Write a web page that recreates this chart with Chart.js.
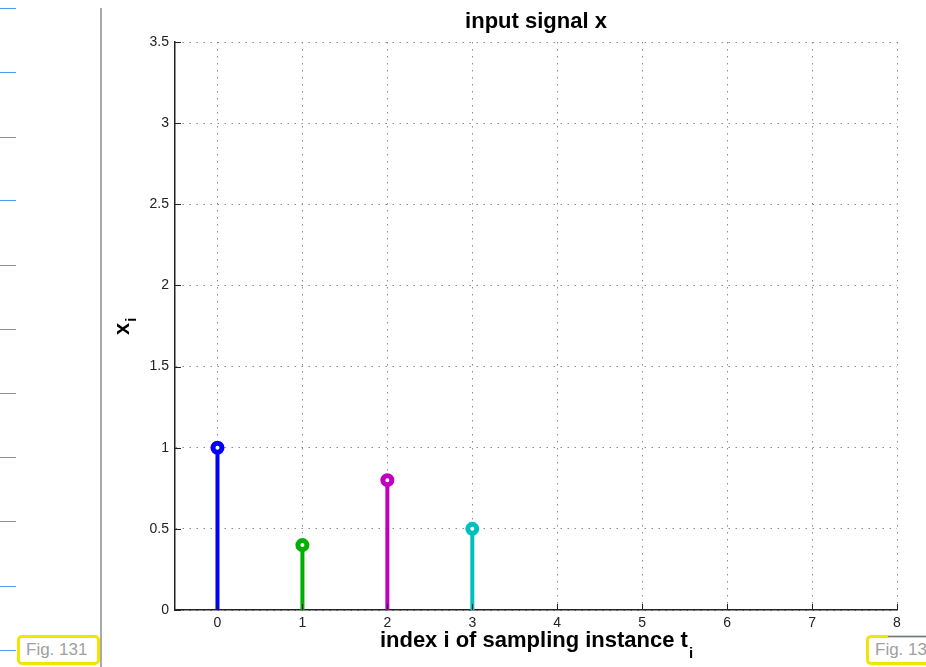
<!DOCTYPE html>
<html>
<head>
<meta charset="utf-8">
<title>input signal x</title>
<script src="https://cdn.jsdelivr.net/npm/chart.js@4/dist/chart.umd.min.js"></script>
<style>
  html, body { margin: 0; padding: 0; background: #fff; overflow: hidden; }
  #page { position: relative; width: 926px; height: 667px; }
  #stemChart { position: absolute; left: 0; top: 0; }
  .rule { position: absolute; left: 0; width: 16px; height: 1px; background: #4f9ff0; }
  .divider { position: absolute; left: 100px; top: 8px; width: 2px; height: 659px; background: #a8a8a8; }
  .fig { position: absolute; height: 24px; border: 3px solid #f2e600; border-radius: 5px;
         font: 17px "Liberation Sans", Arial, sans-serif; color: #a0a0a0; line-height: 24px;
         padding-left: 6px; box-sizing: content-box; background: #fff; overflow: hidden; white-space: nowrap; }
</style>
</head>
<body>
<div id="page">
  <canvas id="stemChart" width="926" height="667"></canvas>
  <div class="divider"></div>
  <div class="rule" style="top:8px"></div>
  <div class="rule" style="top:72px"></div>
  <div class="rule" style="top:137px"></div>
  <div class="rule" style="top:200px"></div>
  <div class="rule" style="top:265px"></div>
  <div class="rule" style="top:329px"></div>
  <div class="rule" style="top:393px"></div>
  <div class="rule" style="top:457px"></div>
  <div class="rule" style="top:521px"></div>
  <div class="rule" style="top:586px"></div>
  <div class="rule" style="top:650px"></div>
  <div class="fig" style="left:17px; top:635px; width:71px;">Fig. 131</div>
  <div class="fig" style="left:866px; top:635px; width:60px; border-right:none; border-radius:5px 0 0 5px;">Fig. 132</div>
  <div style="position:absolute; left:888px; top:636px; width:38px; height:1px; background:#777;"></div>
</div>
<script>
// samples of the input signal
const sampleIndex = [0, 1, 2, 3]
const sampleValues = [1, 0.4, 0.8, 0.5]
const stemColors = ["#0000ff", "#00b000", "#bf00bf", "#00bfbf"]

// axis ticks
const xTicks = [0, 1, 2, 3, 4, 5, 6, 7, 8]
const yTicks = [0, 0.5, 1, 1.5, 2, 2.5, 3, 3.5]

const tickFont = { family: '"Liberation Sans", Arial, sans-serif', size: 14 }

// one dataset per stem: line from zero up to the value, marker on top
const datasets = sampleIndex.map((t, i) => ({
  data: [{ x: t, y: 0 }, { x: t, y: sampleValues[i] }],
  showLine: true,
  borderColor: stemColors[i],
  borderWidth: 4,
  pointRadius: [0, 4.5],
  pointBorderWidth: 5,
  pointBorderColor: stemColors[i],
  pointBackgroundColor: "#ffffff",
  pointHoverRadius: 0,
  clip: false,
}))

function line(ctx, x1, y1, x2, y2) {
  ctx.beginPath()
  ctx.moveTo(x1, y1)
  ctx.lineTo(x2, y2)
  ctx.stroke()
}

// titles (with subscripts) and inward tick marks
const labelPlugin = {
  id: "stemLabels",
  afterDraw(chart) {
    const ctx = chart.ctx
    const a = chart.chartArea
    const x = chart.scales.x
    const y = chart.scales.y
    const cx = (a.left + a.right) / 2
    ctx.save()

    ctx.strokeStyle = "#222"
    ctx.lineWidth = 1
    xTicks.forEach((v) => {
      const px = Math.round(x.getPixelForValue(v)) + 0.5
      line(ctx, px, a.bottom, px, a.bottom - 6)
    })
    yTicks.forEach((v) => {
      const py = Math.round(y.getPixelForValue(v)) + 0.5
      line(ctx, a.left, py, a.left + 6, py)
    })

    ctx.fillStyle = "#000"
    ctx.textBaseline = "alphabetic"

    // title
    ctx.font = 'bold 22px "Liberation Sans", Arial, sans-serif'
    ctx.textAlign = "center"
    ctx.fillText("input signal x", cx, 28)

    // x axis title
    const main = "index i of sampling instance t"
    ctx.font = 'bold 22px "Liberation Sans", Arial, sans-serif'
    const w = ctx.measureText(main).width
    ctx.font = 'bold 15px "Liberation Sans", Arial, sans-serif'
    const ws = ctx.measureText("i").width
    const x0 = cx - (w + ws) / 2
    ctx.textAlign = "left"
    ctx.font = 'bold 22px "Liberation Sans", Arial, sans-serif'
    ctx.fillText(main, x0, 647)
    ctx.font = 'bold 15px "Liberation Sans", Arial, sans-serif'
    ctx.fillText("i", x0 + w + 1, 658)

    // y axis title, rotated
    ctx.translate(129, 335)
    ctx.rotate(-Math.PI / 2)
    ctx.font = 'bold 22px "Liberation Sans", Arial, sans-serif'
    ctx.fillText("x", 0, 0)
    const wx = ctx.measureText("x").width
    ctx.font = 'bold 15px "Liberation Sans", Arial, sans-serif'
    ctx.fillText("i", wx + 1, 7)

    ctx.restore()
  },
}

new Chart(document.getElementById("stemChart"), {
  type: "scatter",
  data: { datasets: datasets },
  plugins: [labelPlugin],
  options: {
    responsive: false,
    animation: false,
    events: [],
    layout: { padding: { left: 0, top: 42, right: 29, bottom: 0 } },
    plugins: {
      legend: { display: false },
      tooltip: { enabled: false },
      title: { display: false },
    },
    scales: {
      x: {
        type: "linear",
        min: -0.5,
        max: 8,
        afterBuildTicks: (s) => { s.ticks = xTicks.map((v) => ({ value: v })) },
        afterFit: (s) => { s.height = 57 },
        ticks: { color: "#222", font: tickFont, padding: 5, maxRotation: 0, autoSkip: false, callback: (v) => String(v) },
        grid: { color: "#8c8c8c", lineWidth: 1, drawTicks: false },
        border: { display: true, color: "#222", width: 1.5, dash: [1.5, 5.5] },
      },
      y: {
        min: 0,
        max: 3.5,
        afterBuildTicks: (s) => { s.ticks = yTicks.map((v) => ({ value: v })) },
        afterFit: (s) => { s.width = 175 },
        ticks: { color: "#222", font: tickFont, padding: 6, autoSkip: false, callback: (v) => String(v) },
        grid: { color: "#8c8c8c", lineWidth: 1, drawTicks: false },
        border: { display: true, color: "#222", width: 1.5, dash: [1.5, 5.5] },
      },
    },
  },
})
</script>
</body>
</html>
